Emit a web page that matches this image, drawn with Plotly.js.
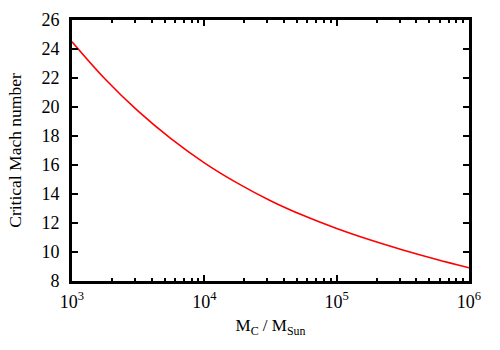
<!DOCTYPE html>
<html>
<head>
<meta charset="utf-8">
<script src="https://cdn.plot.ly/plotly-3.0.1.min.js"></script>
<style>
	html, body { margin: 0; padding: 0; background: #fff; }
	#plot { width: 500px; height: 350px; }
</style>
</head>
<body>
<div id="plot"></div>
<script>
(function () {

	'use strict';

	// cloud mass (solar masses), quarter-decade steps
	const cloudMass = [
		1e3, 1.778e3, 3.162e3, 5.623e3,
		1e4, 1.778e4, 3.162e4, 5.623e4,
		1e5, 1.778e5, 3.162e5, 5.623e5,
		1e6
	];

	// critical Mach number
	const machCrit = [
		24.5, 21.93, 19.71, 17.8,
		16.15, 14.75, 13.54, 12.51,
		11.62, 10.84, 10.14, 9.5,
		8.91
	];

	const xTickVals = [1e3, 1e4, 1e5, 1e6];
	const xTickText = ['10<sup>3</sup>', '10<sup>4</sup>', '10<sup>5</sup>', '10<sup>6</sup>'];

	const serif = 'Liberation Serif';

	/**
	* Axis template - gnuplot-ish box with inside ticks
	*/
	const baseAxis = {
		showline: true,
		linecolor: '#000',
		linewidth: 3,
		mirror: 'ticks',
		ticks: 'inside',
		ticklen: 6,
		tickwidth: 2,
		tickcolor: '#000',
		showgrid: false,
		zeroline: false,
		tickfont: { family: serif, size: 18, color: '#000' },
	};

	const trace = {
		x: cloudMass,
		y: machCrit,
		type: 'scatter',
		mode: 'lines',
		line: { color: '#ff0000', width: 1.6, shape: 'spline', smoothing: 1 },
		hoverinfo: 'skip',
	};

	const layout = {
		width: 500,
		height: 350,
		margin: { l: 72, r: 31, t: 20, b: 69 },
		paper_bgcolor: '#fff',
		plot_bgcolor: '#fff',
		font: { family: serif, size: 17, color: '#000' },
		showlegend: false,
		xaxis: Object.assign({}, baseAxis, {
			type: 'log',
			range: [3, 6],
			tickvals: xTickVals,
			ticktext: xTickText,
			ticklabelstandoff: 2,
			minor: { dtick: 'D1', ticks: 'inside', ticklen: 3, tickwidth: 2, tickcolor: '#000', showgrid: false },
			title: { text: 'M<sub>C</sub> / M<sub>Sun</sub>', font: { family: serif, size: 17, color: '#000' }, standoff: 9 },
		}),
		yaxis: Object.assign({}, baseAxis, {
			range: [8, 26],
			dtick: 2,
			tick0: 8,
			ticklabelstandoff: 6,
			title: { text: 'Critical Mach number', font: { family: serif, size: 17.5, color: '#000' }, standoff: 16 },
		}),
	};

	Plotly.newPlot('plot', [trace], layout, { displayModeBar: false, staticPlot: true });

})();
</script>
</body>
</html>
